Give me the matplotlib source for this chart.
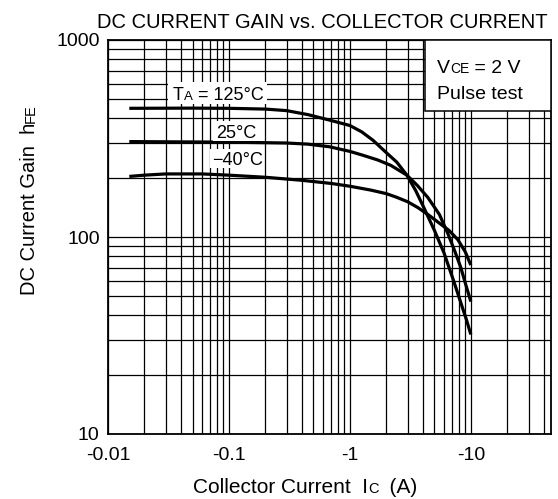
import matplotlib
matplotlib.use("Agg")
import matplotlib.pyplot as plt
from matplotlib.ticker import LogLocator, NullFormatter, FixedLocator
from matplotlib.patches import Rectangle

plt.rcParams['font.family'] = ['Liberation Sans', 'DejaVu Sans']

# ---------------- data ----------------
ic_125 = [0.015, 0.05, 0.1, 0.2, 0.3, 0.45, 0.68, 1.0, 1.25, 1.55, 2.0, 2.44,
          2.96, 3.5, 4.0, 5.0, 6.0, 7.2, 8.3, 9.2, 10]
hfe_125 = [450, 451, 450, 446, 438, 418, 392, 368, 342, 310, 268, 240,
           206, 172, 145, 108, 83, 60, 46, 38, 32]

ic_25 = [0.015, 0.1, 0.3, 0.45, 0.68, 1.0, 1.28, 1.7, 2.18, 2.96, 3.6, 4.4,
         5.5, 6.46, 7.3, 8.26, 9.1, 10]
hfe_25 = [305, 303, 300, 296, 287, 272, 260, 246, 231, 206, 183, 159,
          130, 104, 86, 70, 57, 47]

ic_m40 = [0.015, 0.02, 0.03, 0.06, 0.1, 0.2, 0.4, 0.7, 1.0, 1.49, 2.0, 2.44,
          3.0, 3.65, 4.5, 5.55, 6.6, 7.8, 9.0, 10]
hfe_m40 = [203, 206, 209, 209, 206, 201, 194, 187, 181, 173, 166, 159,
           151, 141, 129, 117, 108, 97, 84, 72]

x_ticks = [0.01, 0.1, 1, 10]
x_tick_labels = ["-0.01", "-0.1", "-1", "-10"]
y_ticks = [10, 100, 1000]
y_tick_labels = ["10", "100", "1000"]

# ---------------- figure ----------------
W, H = 558, 499
fig = plt.figure(figsize=(W / 100, H / 100), dpi=100)
L, R, T, B = 108, 551, 40, 434
ax = fig.add_axes([L / W, 1 - B / H, (R - L) / W, (B - T) / H])
ax.set_xscale('log')
ax.set_yscale('log')
ax.set_xlim(0.01, 46)
ax.set_ylim(10, 1000)

ax.xaxis.set_major_locator(FixedLocator(x_ticks))
ax.set_xticklabels(x_tick_labels)
ax.yaxis.set_major_locator(FixedLocator(y_ticks))
ax.set_yticklabels(y_tick_labels)
ax.xaxis.set_minor_locator(LogLocator(base=10, subs=range(2, 10), numticks=30))
ax.yaxis.set_minor_locator(LogLocator(base=10, subs=range(2, 10), numticks=30))
ax.xaxis.set_minor_formatter(NullFormatter())
ax.yaxis.set_minor_formatter(NullFormatter())
ax.tick_params(which='both', length=0)
ax.tick_params(axis='x', labelsize=14, pad=9)
ax.tick_params(axis='y', labelsize=14, pad=6)
ax.grid(True, which='both', color='black', lw=0.9)
ax.set_axisbelow(True)
for s in ax.spines.values():
    s.set_linewidth(1.3)

for xs, ys in [(ic_125, hfe_125), (ic_25, hfe_25), (ic_m40, hfe_m40)]:
    ax.plot(xs, ys, color='black', lw=2.3, solid_capstyle='butt',
            solid_joinstyle='round', zorder=4)

renderer = fig.canvas.get_renderer()


def rich(x, y, parts, bg=None, zorder=7):
    """x, y in image pixels (y from top, y = baseline)."""
    cx = x
    texts = []
    for s, fs in parts:
        t = fig.text(cx / W, 1 - y / H, s, fontsize=fs, ha='left', va='baseline',
                     zorder=zorder)
        bb = t.get_window_extent(renderer)
        cx += bb.width
        texts.append(t)
    if bg is not None:
        x0, y0, x1, y1 = bg
        fig.patches.append(Rectangle((x0 / W, 1 - y1 / H), (x1 - x0) / W, (y1 - y0) / H,
                                     transform=fig.transFigure, fc='white', ec='none',
                                     zorder=zorder - 1))
    return texts


# curve labels
rich(173, 100, [("T", 13), ("A", 9.5), (" = 125°C", 13)], bg=(168, 82, 267, 104))
rich(216, 138, [("25°C", 13)], bg=(213, 121, 261, 141))
rich(212, 165, [("−40°C", 13)], bg=(210, 149, 263, 168))

# condition box
ax.add_patch(Rectangle(((425 - L) / (R - L), (B - 111) / (B - T)),
                       1 - (425 - L) / (R - L), 1 - (B - 111) / (B - T),
                       transform=ax.transAxes, fc='white', ec='black', lw=1.1, zorder=5))
rich(437, 73, [("V", 14), ("CE", 10), (" = 2 V", 14)])
rich(437, 99, [("Pulse test", 14)])

# title
fig.text(322 / W, 1 - 28 / H, "DC CURRENT GAIN vs. COLLECTOR CURRENT", fontsize=14.5,
         ha='center', va='baseline')

# x label
rich(193, 493, [("Collector Current  I", 15), ("C", 10.5), ("  (A)", 15)])

# y label (rotated)
t1 = fig.text(35 / W, 1 - 295 / H, "DC Current Gain  h", fontsize=14.5, rotation=90,
              rotation_mode='anchor', ha='left', va='baseline')
ln = t1.get_window_extent(renderer).height
fig.text(35 / W, 1 - (295 - ln) / H, "FE", fontsize=10.5, rotation=90,
         rotation_mode='anchor', ha='left', va='baseline')

fig.savefig("out.png", dpi=100)
